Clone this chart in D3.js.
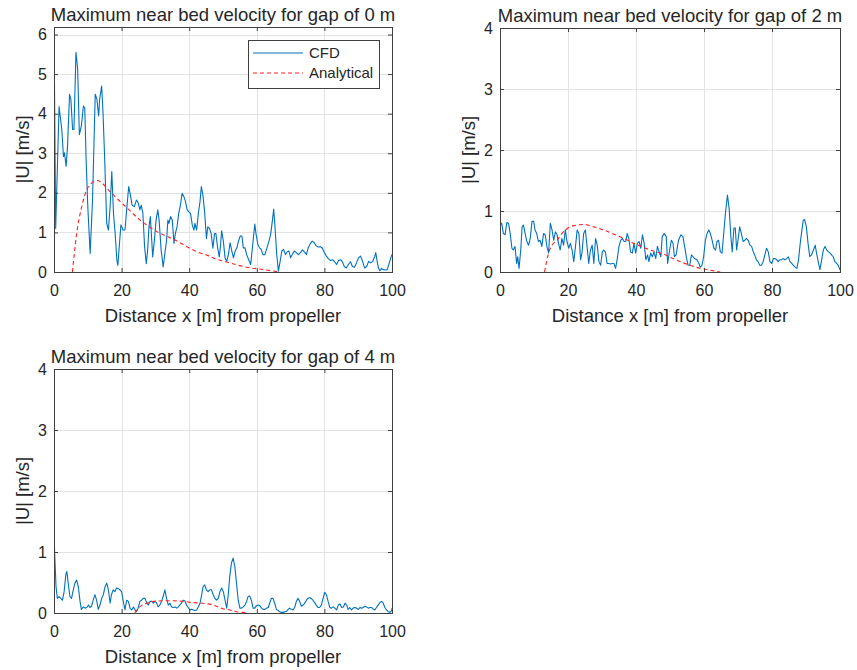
<!DOCTYPE html>
<html lang="en">
<head>
    <meta charset="utf-8">
    <title>Maximum near bed velocity</title>
    <style>
        body { margin: 0; background: #fff; }
        text { font-family: "Liberation Sans", Arial, Helvetica, sans-serif; fill: #262626; }
    </style>
</head>
<body>
    <svg id="chart" width="857" height="670"></svg>
    <script src="https://cdn.jsdelivr.net/npm/d3@7"></script>
    <script>
        // CFD, gap 0 m
        const cfdX0 = [0,0.5,1.5,2.3,2.8,3.1,3.6,4.0,4.6,5.0,5.5,5.9,6.5,7.0,7.5,8.1,8.7,9.1,9.5,10.0,
            10.7,11.4,12.2,12.7,13.2,13.5,14.1,14.5,15.0,15.6,16.1,16.6,17.1,17.6,18.1,18.6,18.9,19.3,19.8,20.4,
            21.0,21.5,22.1,22.6,23.1,23.8,24.4,24.9,25.4,25.8,26.3,26.8,27.3,27.7,28.1,28.5,28.8,29.2,29.7,30.2,
            30.7,31.1,31.7,32.3,32.8,33.3,33.7,34.0,34.5,35.0,35.5,35.9,36.4,36.9,37.4,37.9,38.4,38.9,39.4,39.9,
            40.4,40.9,41.4,41.7,42.2,42.7,43.2,43.6,44.1,44.6,45.1,45.5,46.0,46.5,47.0,47.5,47.9,48.4,48.9,49.2,
            49.6,50.1,50.6,51.1,51.6,52.1,52.6,53.1,53.6,54.1,54.6,55.1,55.6,56.0,56.5,57.0,57.6,58.2,58.8,59.4,
            59.8,60.3,60.8,61.3,61.8,62.4,63.0,63.6,64.1,64.6,65.0,65.4,65.9,66.4,66.9,67.4,67.9,68.5,69.0,69.5,
            70.0,70.5,71.1,71.7,72.3,72.9,73.5,74.1,74.7,75.2,75.8,76.4,77.0,77.6,78.2,78.8,79.4,80.0,80.6,81.2,
            81.8,82.4,83.0,83.6,84.2,84.8,85.3,85.9,86.5,87.1,87.7,88.3,88.9,89.5,90.1,90.7,91.3,91.9,92.5,93.1,
            93.7,94.3,94.9,95.2,95.6,96.0,96.4,96.9,97.4,98.0,98.6,99.2,99.8,100];
        const cfdU0 = [6.19,1.10,4.18,3.60,2.92,3.01,2.67,3.18,4.49,4.36,3.60,3.60,5.55,5.13,3.47,3.69,4.19,4.15,2.84,1.65,
            0.47,1.82,4.49,4.36,3.94,4.36,4.70,4.03,2.84,1.23,1.06,1.65,2.54,1.48,0.97,0.30,0.17,0.64,1.19,1.06,
            1.06,1.57,2.16,1.95,1.69,1.65,1.82,1.75,1.57,1.69,1.48,0.64,0.21,0.55,1.14,1.40,0.97,0.38,0.80,1.31,
            1.57,1.31,0.55,0.13,0.47,0.80,1.31,1.23,1.40,1.31,0.72,0.97,1.14,1.48,1.69,1.99,1.91,1.78,1.57,1.52,
            1.48,1.19,1.06,1.23,1.06,1.48,1.78,2.16,1.91,1.48,0.84,1.14,1.10,0.97,0.60,0.97,0.97,0.62,0.38,0.61,
            1.04,0.78,0.36,0.27,0.44,0.74,0.53,0.36,0.53,0.61,0.78,0.91,0.91,0.61,0.61,0.44,0.31,0.19,0.70,1.21,
            0.95,0.70,0.61,0.57,0.44,0.44,0.61,0.78,0.95,1.29,1.59,1.12,0.44,0.02,0.27,0.53,0.57,0.44,0.51,0.53,
            0.36,0.44,0.53,0.49,0.44,0.49,0.56,0.51,0.44,0.61,0.71,0.78,0.74,0.66,0.63,0.64,0.60,0.49,0.40,0.34,
            0.29,0.31,0.26,0.19,0.29,0.31,0.26,0.14,0.10,0.19,0.26,0.14,0.12,0.23,0.36,0.40,0.27,0.10,0.14,0.27,
            0.23,0.27,0.40,0.49,0.27,0.10,0.03,0.09,0.06,0.05,0.06,0.23,0.40,0.44];

        // CFD, gap 2 m
        const cfdX2 = [0,0.5,1.0,1.5,2.0,2.5,3.0,3.5,3.9,4.4,4.9,5.2,5.6,6.1,6.5,6.9,7.4,7.9,8.4,8.9,
            9.4,9.9,10.3,10.8,11.3,11.8,12.3,12.8,13.3,13.8,14.3,14.8,15.3,15.8,16.3,16.8,17.2,17.7,18.2,18.7,
            19.2,19.7,20.2,20.7,21.2,21.7,22.2,22.7,23.2,23.7,24.1,24.6,25.1,25.6,26.1,26.6,27.1,27.6,28.1,28.6,
            29.1,29.6,30.1,30.5,31.0,31.5,32.0,32.5,33.0,33.5,34.0,34.5,35.0,35.5,36.0,36.5,37.0,37.4,37.9,38.4,
            38.9,39.4,39.9,40.4,40.9,41.4,41.9,42.4,42.9,43.4,43.8,44.3,44.8,45.3,45.8,46.3,46.8,47.3,47.7,48.3,
            48.9,49.3,49.9,50.4,50.9,51.3,51.8,52.5,53.2,53.8,54.3,54.8,55.3,55.8,56.3,56.8,57.2,57.9,58.5,58.9,
            59.4,59.9,60.4,60.9,61.4,61.9,62.4,62.9,63.4,63.8,64.3,64.8,65.3,65.8,66.3,66.9,67.4,67.9,68.3,68.8,
            69.2,69.6,70.0,70.5,71.0,71.5,72.0,72.5,73.0,73.5,74.0,74.5,74.9,75.4,75.9,76.4,76.9,77.4,77.9,78.4,
            78.9,79.4,79.9,80.4,80.9,81.4,81.8,82.3,82.8,83.3,83.8,84.3,84.8,85.3,85.8,86.3,86.8,87.3,87.8,88.3,
            88.8,89.2,89.6,90.1,90.6,91.1,91.6,92.2,92.7,93.2,93.7,94.1,94.6,95.1,95.6,96.1,96.6,97.1,97.5,98.0,
            98.5,99.0,99.5,100];
        const cfdU2 = [0.77,0.80,0.63,0.61,0.81,0.80,0.63,0.39,0.36,0.42,0.14,0.25,0.06,0.36,0.74,0.77,0.63,0.50,0.44,0.55,
            0.83,0.83,0.69,0.63,0.50,0.52,0.42,0.63,0.61,0.42,0.31,0.80,0.69,0.52,0.66,0.61,0.47,0.36,0.55,0.44,
            0.69,0.50,0.39,0.47,0.36,0.17,0.42,0.69,0.63,0.20,0.31,0.63,0.69,0.42,0.14,0.36,0.44,0.14,0.55,0.44,
            0.17,0.11,0.33,0.36,0.33,0.14,0.14,0.13,0.14,0.14,0.06,0.22,0.42,0.52,0.55,0.50,0.50,0.63,0.55,0.33,
            0.31,0.47,0.31,0.47,0.50,0.39,0.61,0.47,0.20,0.28,0.17,0.31,0.25,0.33,0.22,0.42,0.33,0.25,0.58,0.63,
            0.58,0.14,0.36,0.52,0.47,0.25,0.28,0.52,0.61,0.58,0.42,0.25,0.11,0.11,0.28,0.25,0.22,0.20,0.14,0.08,
            0.11,0.25,0.52,0.63,0.69,0.63,0.52,0.39,0.36,0.50,0.52,0.33,0.31,0.63,0.96,1.26,1.04,0.58,0.33,0.72,
            0.72,0.36,0.52,0.74,0.63,0.50,0.52,0.55,0.52,0.44,0.42,0.33,0.28,0.20,0.17,0.11,0.11,0.17,0.28,0.39,
            0.33,0.17,0.14,0.22,0.22,0.20,0.17,0.20,0.20,0.22,0.20,0.22,0.25,0.17,0.14,0.11,0.08,0.06,0.20,0.47,
            0.69,0.85,0.86,0.74,0.47,0.25,0.28,0.36,0.44,0.28,0.14,0.04,0.20,0.36,0.42,0.36,0.33,0.31,0.28,0.25,
            0.17,0.14,0.11,0.03];

        // CFD, gap 4 m
        const cfdX4 = [0,0.2,0.6,1.0,1.5,2.0,2.5,3.0,3.5,3.8,4.2,4.7,5.2,5.7,6.2,6.7,7.2,7.7,8.1,8.7,
            9.2,9.7,10.2,10.6,11.1,11.6,12.1,12.6,13.1,13.6,14.1,14.6,15.1,15.6,16.1,16.6,17.0,17.5,18.0,18.5,
            19.0,19.5,20.0,20.5,21.0,21.5,22.0,22.5,23.0,23.5,23.9,24.4,24.9,25.4,25.9,26.4,26.9,27.4,27.9,28.4,
            28.9,29.4,29.9,30.3,30.8,31.3,31.8,32.3,32.8,33.3,33.8,34.3,34.8,35.3,35.8,36.3,36.8,37.2,37.7,38.2,
            38.7,39.2,39.7,40.2,40.7,41.2,41.7,42.2,42.7,43.2,43.7,44.1,44.6,45.1,45.6,46.1,46.6,47.1,47.6,48.1,
            48.6,49.1,49.6,50.1,50.6,51.1,51.5,52.0,52.5,53.0,53.5,54.0,54.5,55.0,55.5,56.0,56.5,57.0,57.4,57.9,
            58.4,58.9,59.4,59.9,60.4,60.9,61.4,61.9,62.4,62.9,63.4,63.8,64.3,64.8,65.3,65.8,66.3,66.8,67.3,67.8,
            68.3,68.8,69.3,69.7,70.2,70.7,71.2,71.7,72.2,72.7,73.2,73.7,74.2,74.7,75.1,75.6,76.1,76.6,77.1,77.6,
            78.1,78.6,79.1,79.6,80.1,80.6,81.1,81.6,82.1,82.6,83.1,83.6,84.1,84.6,85.1,85.6,86.1,86.6,87.0,87.5,
            88.0,88.5,89.0,89.5,90.0,90.5,91.0,91.5,92.0,92.5,93.0,93.5,94.0,94.5,94.9,95.4,95.9,96.4,96.9,97.4,
            97.9,98.4,98.9,99.4,99.9,100];
        const cfdU4 = [1.35,0.98,0.43,0.24,0.27,0.24,0.21,0.35,0.63,0.68,0.49,0.27,0.24,0.38,0.49,0.54,0.43,0.19,0.06,0.10,
            0.08,0.09,0.13,0.09,0.11,0.21,0.30,0.21,0.06,0.13,0.24,0.30,0.43,0.49,0.38,0.16,0.30,0.38,0.35,0.41,
            0.40,0.38,0.35,0.19,0.05,0.21,0.19,0.08,0.05,0.10,0.06,0.02,0.08,0.19,0.21,0.24,0.24,0.17,0.13,0.19,
            0.19,0.16,0.19,0.17,0.10,0.13,0.19,0.27,0.38,0.24,0.13,0.16,0.10,0.09,0.10,0.08,0.10,0.13,0.16,0.21,
            0.20,0.13,0.09,0.05,0.06,0.05,0.04,0.05,0.10,0.16,0.30,0.43,0.46,0.38,0.35,0.38,0.38,0.30,0.24,0.21,
            0.24,0.35,0.41,0.35,0.21,0.08,0.27,0.60,0.82,0.90,0.76,0.49,0.21,0.08,0.08,0.10,0.13,0.19,0.27,0.28,
            0.21,0.08,0.08,0.12,0.13,0.12,0.08,0.06,0.06,0.08,0.09,0.16,0.24,0.24,0.16,0.06,0.04,0.02,0.01,0.01,
            0.02,0.03,0.06,0.08,0.06,0.05,0.09,0.19,0.24,0.19,0.11,0.13,0.16,0.21,0.24,0.25,0.24,0.21,0.17,0.13,
            0.09,0.09,0.13,0.24,0.34,0.30,0.19,0.09,0.08,0.10,0.08,0.05,0.13,0.15,0.09,0.10,0.16,0.13,0.06,0.09,
            0.05,0.08,0.09,0.08,0.06,0.09,0.08,0.09,0.11,0.10,0.08,0.09,0.09,0.06,0.05,0.09,0.13,0.17,0.19,0.16,
            0.09,0.05,0.02,0.01,0.04,0.08];

        // Analytical
        const anaX0 = [5.45,6.7,8.2,9.7,11.2,12.7,14.2,15.6,18.6,21.6,25.5,30.5,35.5,40.4,42.0,45.4,47.0,52.0,57.0,62.0,66.7];
        const anaU0 = [0,0.97,1.65,2.08,2.25,2.31,2.25,2.12,1.86,1.62,1.31,1.02,0.82,0.59,0.52,0.42,0.36,0.23,0.12,0.06,0];
        const anaX2 = [13.1,14.3,15.3,16.8,18.2,19.7,21.7,24.6,27.6,30.5,33.5,36.5,39.4,42.4,45.3,48.3,50.1,53.0,56.0,58.9,61.9,64.8];
        const anaU2 = [0,0.31,0.44,0.52,0.63,0.71,0.76,0.78,0.74,0.69,0.62,0.55,0.47,0.40,0.34,0.29,0.24,0.17,0.11,0.06,0.03,0];
        const anaX4 = [23.9,25.4,27.4,29.4,32.3,35.3,38.2,41.2,44.1,47.1,50.0,52.0,54.0,56.0,57.5];
        const anaU4 = [0,0.10,0.16,0.19,0.20,0.20,0.19,0.17,0.16,0.13,0.07,0.05,0.02,0.01,0];

        const xTicks = [0, 20, 40, 60, 80, 100];
        const gaps = [0, 2, 4];
        const seriesNames = ["CFD", "Analytical"];

        const zip = (xs, ys) => xs.map((x, i) => [x, ys[i]]);

        const svg = d3.select("#chart");
        svg.append("rect").attr("width", 857).attr("height", 670).attr("fill", "#fff");

        const panels = [
            {gap: gaps[0], left: 54, top: 27, w: 338, h: 245, cfd: zip(cfdX0, cfdU0), ana: zip(anaX0, anaU0),
             ymax: d3.max(cfdU0), yTicks: [0, 1, 2, 3, 4, 5, 6], legend: true},
            {gap: gaps[1], left: 500, top: 28, w: 340, h: 244, cfd: zip(cfdX2, cfdU2), ana: zip(anaX2, anaU2),
             ymax: 4, yTicks: [0, 1, 2, 3, 4]},
            {gap: gaps[2], left: 54, top: 369, w: 338, h: 244, cfd: zip(cfdX4, cfdU4), ana: zip(anaX4, anaU4),
             ymax: 4, yTicks: [0, 1, 2, 3, 4]}
        ];

        const font = "'Liberation Sans', Arial, Helvetica, sans-serif";

        panels.forEach((p, i) => {
            const g = svg.append("g").attr("transform", `translate(${p.left},${p.top})`);
            const x = d3.scaleLinear().domain([0, 100]).range([0, p.w]);
            const y = d3.scaleLinear().domain([0, p.ymax]).range([p.h, 0]);

            // grid
            g.append("g").selectAll("line").data(xTicks.slice(1, -1)).join("line")
                .attr("x1", d => Math.round(x(d)) + 0.5).attr("x2", d => Math.round(x(d)) + 0.5)
                .attr("y1", 0).attr("y2", p.h)
                .attr("stroke", "#e3e3e3");
            g.append("g").selectAll("line").data(p.yTicks.filter(t => t > 0 && t < p.ymax)).join("line")
                .attr("y1", d => Math.round(y(d)) + 0.5).attr("y2", d => Math.round(y(d)) + 0.5)
                .attr("x1", 0).attr("x2", p.w)
                .attr("stroke", "#e3e3e3");

            // data
            const clipId = "clip" + i;
            g.append("clipPath").attr("id", clipId)
                .append("rect").attr("x", 0).attr("y", -1).attr("width", p.w).attr("height", p.h + 2);

            const line = d3.line().x(d => x(d[0])).y(d => y(d[1]));
            const smooth = d3.line().x(d => x(d[0])).y(d => y(d[1])).curve(d3.curveMonotoneX);

            const plot = g.append("g").attr("clip-path", `url(#${clipId})`);
            plot.append("path").datum(p.cfd)
                .attr("d", line)
                .attr("fill", "none")
                .attr("stroke", "#0072BD")
                .attr("stroke-width", 1.1)
                .attr("stroke-linejoin", "round");
            plot.append("path").datum(p.ana)
                .attr("d", smooth)
                .attr("fill", "none")
                .attr("stroke", "#ff2020")
                .attr("stroke-width", 1.1)
                .attr("stroke-dasharray", "4,3");

            // axes (ticks inward on all four sides)
            g.append("g").attr("transform", `translate(0,${p.h})`)
                .call(d3.axisBottom(x).tickValues(xTicks).tickSize(-4).tickPadding(13));
            g.append("g").call(d3.axisTop(x).tickValues(xTicks).tickSize(-4).tickFormat(""));
            g.append("g")
                .call(d3.axisLeft(y).tickValues(p.yTicks).tickSize(-4).tickPadding(7).tickFormat(d3.format("d")));
            g.append("g").attr("transform", `translate(${p.w},0)`)
                .call(d3.axisRight(y).tickValues(p.yTicks).tickSize(-4).tickFormat(""));

            g.selectAll(".domain").remove();
            g.selectAll(".tick line").attr("stroke", "#404040");
            g.selectAll(".tick text").attr("font-family", font).attr("font-size", 16).attr("fill", "#262626");

            g.append("rect").attr("x", 0.5).attr("y", 0.5).attr("width", p.w).attr("height", p.h)
                .attr("fill", "none").attr("stroke", "#404040");

            // labels
            g.append("text")
                .attr("x", p.w / 2).attr("y", -6)
                .attr("text-anchor", "middle")
                .attr("font-size", 18.5)
                .text(`Maximum near bed velocity for gap of ${p.gap} m`);
            g.append("text")
                .attr("x", p.w / 2).attr("y", p.h + 49.5)
                .attr("text-anchor", "middle")
                .attr("font-size", 18.5)
                .text("Distance x [m] from propeller");
            g.append("text")
                .attr("transform", `translate(-25,${p.h / 2}) rotate(-90)`)
                .attr("text-anchor", "middle")
                .attr("font-size", 18.5)
                .text("|U| [m/s]");

            if (p.legend) {
                const lg = svg.append("g").attr("transform", "translate(248,40)");
                lg.append("rect").attr("x", 0.5).attr("y", 0.5).attr("width", 131).attr("height", 48)
                    .attr("fill", "#fff").attr("stroke", "#404040");
                const items = [
                    {name: seriesNames[0], color: "#0072BD", dash: null},
                    {name: seriesNames[1], color: "#ff2020", dash: "4,3"}
                ];
                items.forEach((it, k) => {
                    const yy = 13 + k * 20;
                    lg.append("line").attr("x1", 5).attr("x2", 55).attr("y1", yy).attr("y2", yy)
                        .attr("stroke", it.color).attr("stroke-width", 1.1)
                        .attr("stroke-dasharray", it.dash);
                    lg.append("text").attr("x", 61).attr("y", yy).attr("dy", "0.35em")
                        .attr("font-size", 15).text(it.name);
                });
            }
        });
    </script>
</body>
</html>
